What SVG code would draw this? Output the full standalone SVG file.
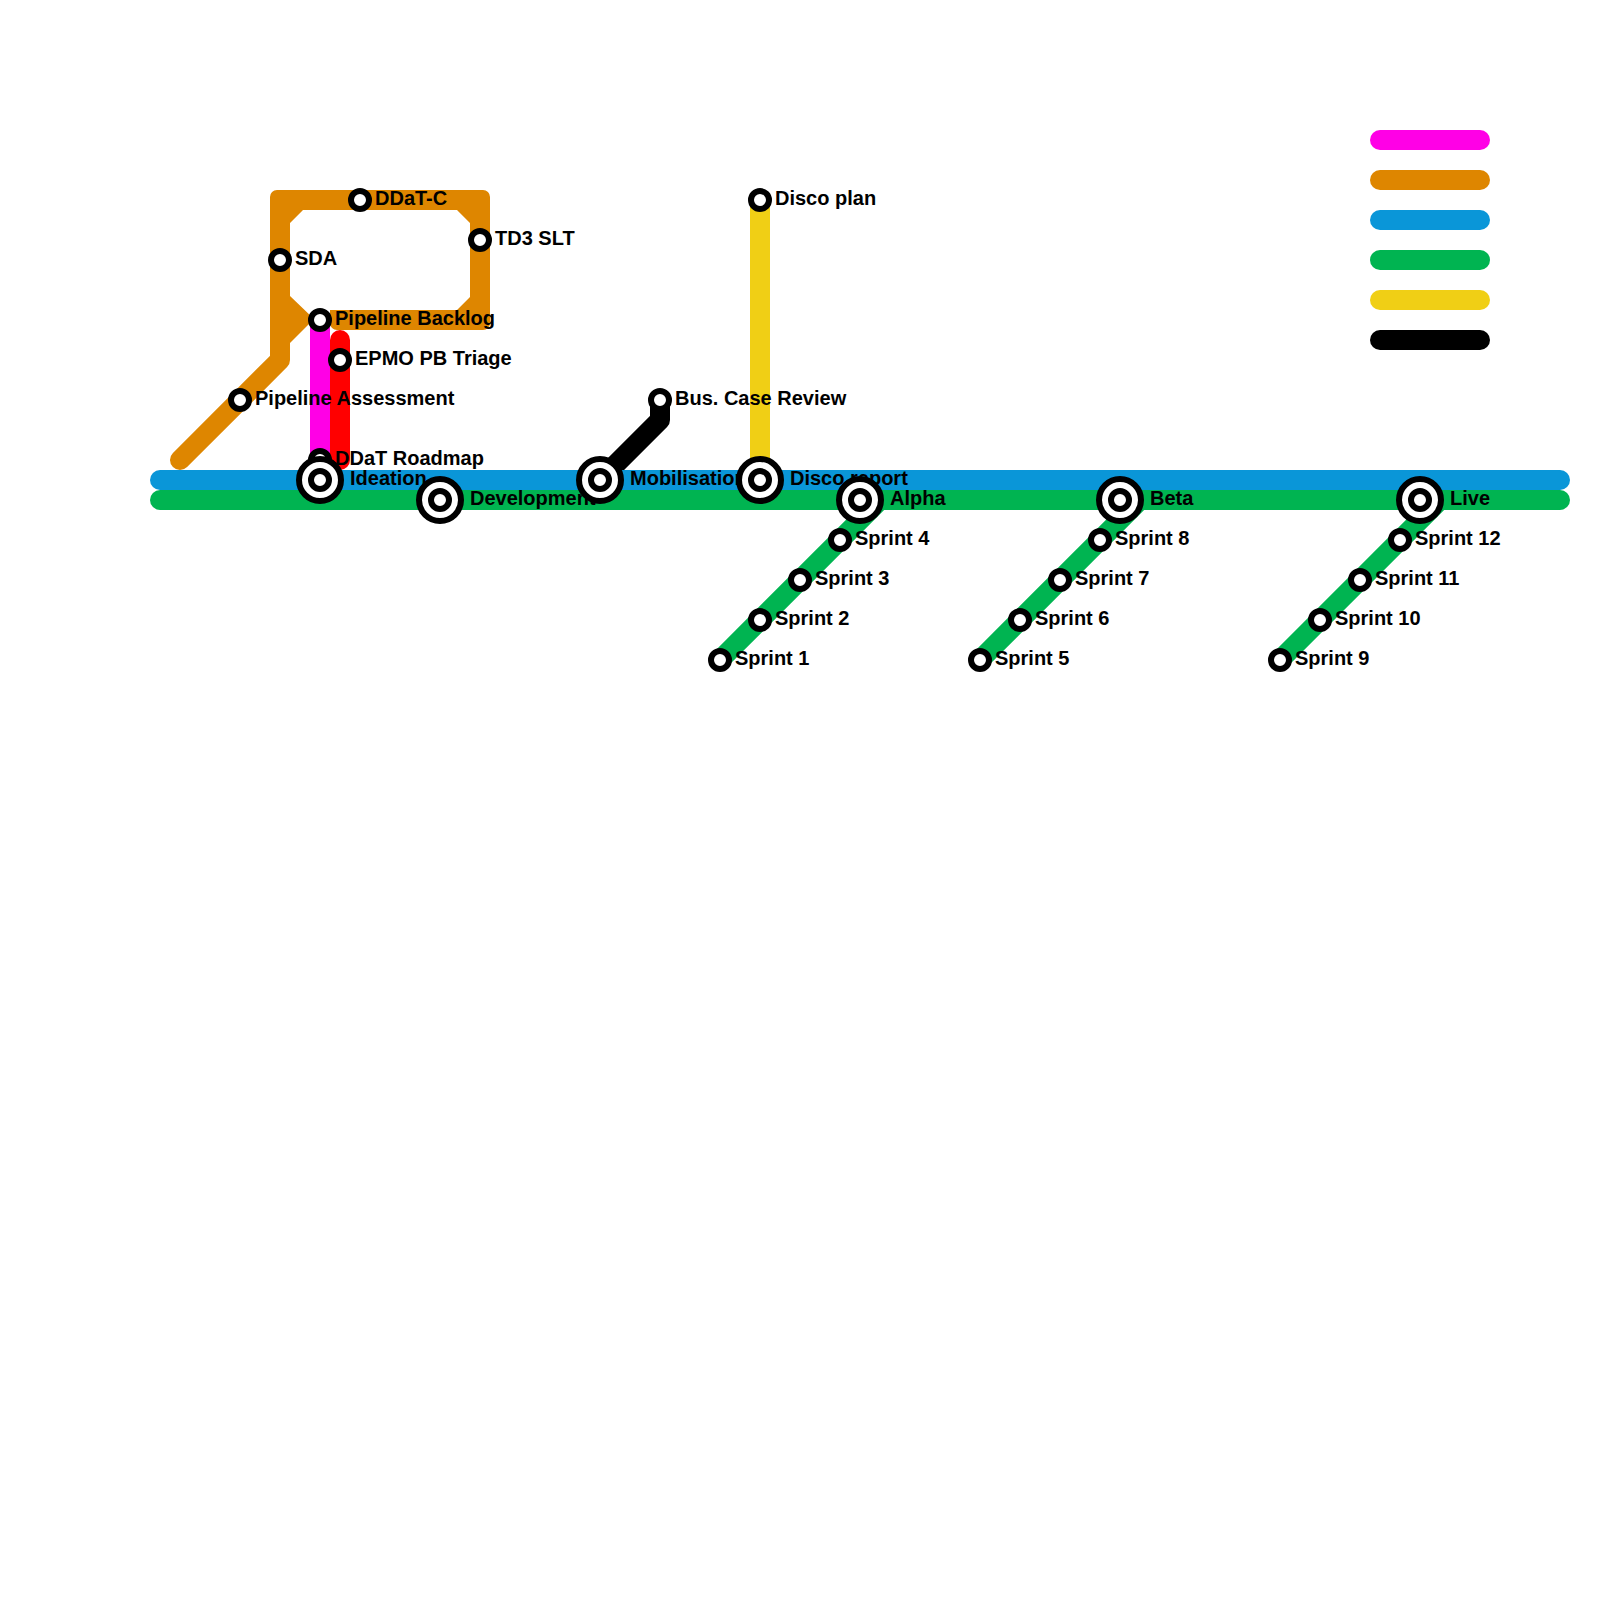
<svg xmlns="http://www.w3.org/2000/svg" width="1600" height="1600" viewBox="0 0 1600 1600">
<style>
.l{fill:none;stroke-width:20;stroke-linecap:round;stroke-linejoin:round}
.m{stroke:#ff00e6}.o{stroke:#de8600}.b{stroke:#0a96d8}.g{stroke:#00b451}.y{stroke:#f0cf15}.k{stroke:#000}.r{stroke:#ff0000}
.s{fill:#fff;stroke:#000;stroke-width:6}
text{font-family:"Liberation Sans",Arial,sans-serif;font-weight:bold;font-size:20px;fill:#000}
</style>
<rect width="1600" height="1600" fill="#fff"/>
<g id="connectors">
<path class="l o" d="M180 460L280 360V340"/>
<path d="M270 197a7 7 0 0 1 7-7H483a7 7 0 0 1 7 7V323a7 7 0 0 1-7 7H337a7 7 0 0 1-7-7V310H457L470 297V223L457 210H303L290 223V296L314 319L290 343V360H270Z" fill="#de8600"/>
<path class="l m" d="M320 320V480"/>
<path class="l r" d="M340 340V460"/>
<path class="l y" d="M760 200V480"/>
<path class="l k" d="M660 400V420L600 480"/>
<path class="l b" d="M160 480H1560"/>
<path class="l g" d="M160 500H1560"/>
<path class="l g" d="M720 660L880 500"/>
<path class="l g" d="M980 660L1140 500"/>
<path class="l g" d="M1280 660L1440 500"/>
</g>
<g id="legend">
<path class="l m" d="M1380 140H1480"/>
<path class="l o" d="M1380 180H1480"/>
<path class="l b" d="M1380 220H1480"/>
<path class="l g" d="M1380 260H1480"/>
<path class="l y" d="M1380 300H1480"/>
<path class="l k" d="M1380 340H1480"/>
</g>
<g id="n-assess"><circle class="s" cx="240" cy="400" r="9"/><text x="255" y="405">Pipeline Assessment</text></g>
<g id="n-sda"><circle class="s" cx="280" cy="260" r="9"/><text x="295" y="265">SDA</text></g>
<g id="n-ddatc"><circle class="s" cx="360" cy="200" r="9"/><text x="375" y="205">DDaT-C</text></g>
<g id="n-td3"><circle class="s" cx="480" cy="240" r="9"/><text x="495" y="245">TD3 SLT</text></g>
<g id="n-backlog"><circle class="s" cx="320" cy="320" r="9"/><text x="335" y="325">Pipeline Backlog</text></g>
<g id="n-epmo"><circle class="s" cx="340" cy="360" r="9"/><text x="355" y="365">EPMO PB Triage</text></g>
<g id="n-roadmap"><circle class="s" cx="320" cy="460" r="9"/><text x="335" y="465">DDaT Roadmap</text></g>
<g id="n-ideation"><circle class="s" cx="320" cy="480" r="21"/><circle class="s" cx="320" cy="480" r="9"/><text x="350" y="485">Ideation</text></g>
<g id="n-dev"><circle class="s" cx="440" cy="500" r="21"/><circle class="s" cx="440" cy="500" r="9"/><text x="470" y="505">Development</text></g>
<g id="n-mob"><circle class="s" cx="600" cy="480" r="21"/><circle class="s" cx="600" cy="480" r="9"/><text x="630" y="485">Mobilisation</text></g>
<g id="n-buscase"><circle class="s" cx="660" cy="400" r="9"/><text x="675" y="405">Bus. Case Review</text></g>
<g id="n-discoplan"><circle class="s" cx="760" cy="200" r="9"/><text x="775" y="205">Disco plan</text></g>
<g id="n-discoreport"><circle class="s" cx="760" cy="480" r="21"/><circle class="s" cx="760" cy="480" r="9"/><text x="790" y="485">Disco report</text></g>
<g id="n-alpha"><circle class="s" cx="860" cy="500" r="21"/><circle class="s" cx="860" cy="500" r="9"/><text x="890" y="505">Alpha</text></g>
<g id="n-beta"><circle class="s" cx="1120" cy="500" r="21"/><circle class="s" cx="1120" cy="500" r="9"/><text x="1150" y="505">Beta</text></g>
<g id="n-live"><circle class="s" cx="1420" cy="500" r="21"/><circle class="s" cx="1420" cy="500" r="9"/><text x="1450" y="505">Live</text></g>
<g id="n-s1"><circle class="s" cx="720" cy="660" r="9"/><text x="735" y="665">Sprint 1</text></g>
<g id="n-s2"><circle class="s" cx="760" cy="620" r="9"/><text x="775" y="625">Sprint 2</text></g>
<g id="n-s3"><circle class="s" cx="800" cy="580" r="9"/><text x="815" y="585">Sprint 3</text></g>
<g id="n-s4"><circle class="s" cx="840" cy="540" r="9"/><text x="855" y="545">Sprint 4</text></g>
<g id="n-s5"><circle class="s" cx="980" cy="660" r="9"/><text x="995" y="665">Sprint 5</text></g>
<g id="n-s6"><circle class="s" cx="1020" cy="620" r="9"/><text x="1035" y="625">Sprint 6</text></g>
<g id="n-s7"><circle class="s" cx="1060" cy="580" r="9"/><text x="1075" y="585">Sprint 7</text></g>
<g id="n-s8"><circle class="s" cx="1100" cy="540" r="9"/><text x="1115" y="545">Sprint 8</text></g>
<g id="n-s9"><circle class="s" cx="1280" cy="660" r="9"/><text x="1295" y="665">Sprint 9</text></g>
<g id="n-s10"><circle class="s" cx="1320" cy="620" r="9"/><text x="1335" y="625">Sprint 10</text></g>
<g id="n-s11"><circle class="s" cx="1360" cy="580" r="9"/><text x="1375" y="585">Sprint 11</text></g>
<g id="n-s12"><circle class="s" cx="1400" cy="540" r="9"/><text x="1415" y="545">Sprint 12</text></g>
</svg>
